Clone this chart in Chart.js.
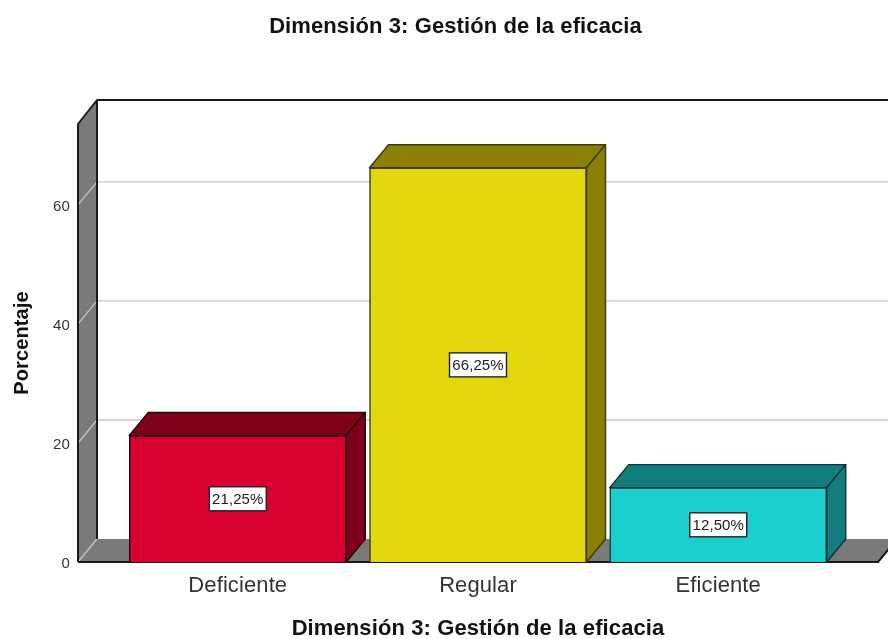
<!DOCTYPE html>
<html>
<head>
<meta charset="utf-8">
<script src="https://cdn.jsdelivr.net/npm/chart.js@4"></script>
<style>
html,body{margin:0;padding:0;background:#fff;overflow:hidden;width:888px;height:639px}
#wrap{position:relative;width:911px;height:639px}
</style>
</head>
<body>
<div id="wrap"><canvas id="c" width="911" height="639"></canvas></div>
<script>
const titleText = "Dimensión 3: Gestión de la eficacia";
const yAxisTitle = "Porcentaje";
const categories = ["Deficiente", "Regular", "Eficiente"];
const percentages = [21.25, 66.25, 12.5];
const percentLabels = ["21,25%", "66,25%", "12,50%"];
const yTicks = [0, 20, 40, 60];

const FRONT = ["#D7002E", "#E3D80D", "#1BCFCF"];
const SHADE = ["#7E001B", "#8A8006", "#117D7D"];
const EDGE = ["#2a0008", "#3d3a05", "#073232"];
const DX = 19, DY = 23, FONT = "'Liberation Sans', Arial, sans-serif", SPACING = "0.1px";

function poly(ctx, pts, fill, stroke, lw) {
  ctx.beginPath();
  pts.forEach((p, i) => i ? ctx.lineTo(p[0], p[1]) : ctx.moveTo(p[0], p[1]));
  ctx.closePath();
  if (fill) { ctx.fillStyle = fill; ctx.fill(); }
  if (stroke) { ctx.strokeStyle = stroke; ctx.lineWidth = lw; ctx.stroke(); }
}

const frame3d = {
  id: "frame3d",
  beforeLayout(chart) { chart.ctx.letterSpacing = SPACING; },
  beforeDraw(chart) { chart.ctx.letterSpacing = SPACING; },
  beforeDatasetsDraw(chart) {
    const ctx = chart.ctx, a = chart.chartArea, y = chart.scales.y;
    const L = a.left, R = a.right, T = a.top, B = a.bottom;
    ctx.save();
    ctx.lineJoin = "round";
    // floor
    poly(ctx, [[L, B], [R, B], [R + DX, B - DY], [L + DX, B - DY]], "#7A7A7A");
    // left wall
    poly(ctx, [[L, T], [L + DX, T - DY - 1], [L + DX, B - DY], [L, B]], "#7A7A7A");
    // grid lines on left wall and back wall
    ctx.strokeStyle = "#C8C8C8";
    ctx.lineWidth = 1.3;
    yTicks.forEach(v => {
      const p = y.getPixelForValue(v);
      ctx.beginPath();
      ctx.moveTo(L, p);
      ctx.lineTo(L + DX, p - DY);
      if (v > 0) ctx.lineTo(R + DX, p - DY);
      ctx.stroke();
    });
    // frame edges
    ctx.strokeStyle = "#1a1a1a";
    ctx.lineWidth = 2;
    ctx.beginPath();
    ctx.moveTo(L, B); ctx.lineTo(L, T); ctx.lineTo(L + DX, T - DY - 1);
    ctx.lineTo(R + DX, T - DY - 1);
    ctx.moveTo(L + DX, T - DY - 1); ctx.lineTo(L + DX, B - DY);
    ctx.moveTo(L, B); ctx.lineTo(R, B); ctx.lineTo(R + DX, B - DY);
    ctx.stroke();
    // bar top and side faces
    chart.getDatasetMeta(0).data.forEach((el, i) => {
      const l = el.x - el.width / 2, r = el.x + el.width / 2, t = el.y, b = el.base;
      poly(ctx, [[l, t], [l + DX, t - DY], [r + DX, t - DY], [r, t]], SHADE[i], EDGE[i], 1.4);
      poly(ctx, [[r, t], [r + DX, t - DY], [r + DX, b - DY], [r, b]], SHADE[i], EDGE[i], 1.4);
    });
    ctx.restore();
  },
  afterDatasetsDraw(chart) {
    const ctx = chart.ctx;
    ctx.save();
    ctx.font = "15px " + FONT;
    ctx.textAlign = "center";
    ctx.textBaseline = "middle";
    chart.getDatasetMeta(0).data.forEach((el, i) => {
      const cy = (el.y + el.base) / 2, w = 57, h = 24;
      ctx.fillStyle = "#fff";
      ctx.strokeStyle = "#222";
      ctx.lineWidth = 1.4;
      ctx.fillRect(el.x - w / 2, cy - h / 2, w, h);
      ctx.strokeRect(el.x - w / 2, cy - h / 2, w, h);
      ctx.fillStyle = "#222";
      ctx.fillText(percentLabels[i], el.x, cy + 1);
    });
    ctx.restore();
  }
};

document.getElementById("c").getContext("2d").letterSpacing = SPACING;

new Chart(document.getElementById("c"), {
  type: "bar",
  data: {
    labels: categories,
    datasets: [{
      label: yAxisTitle,
      data: percentages.map((v, i) => ({ x: i, y: v })),
      backgroundColor: FRONT,
      borderColor: EDGE,
      borderWidth: 1.5,
      barThickness: 217
    }]
  },
  options: {
    responsive: false,
    animation: false,
    layout: { padding: { left: 33, right: 33, top: 0, bottom: 0 } },
    plugins: {
      legend: { display: false },
      tooltip: { enabled: false },
      title: {
        display: true,
        text: titleText,
        color: "#111",
        font: { family: FONT, size: 22, weight: "bold" },
        padding: { top: 14, bottom: 83.6 }
      }
    },
    scales: {
      x: {
        type: "linear",
        offset: false,
        min: -0.665,
        max: 2.665,
        afterFit(s) { s.height = 77; },
        afterBuildTicks(s) { s.ticks = categories.map((_, i) => ({ value: i })); },
        grid: { display: false, drawTicks: false },
        border: { display: false },
        ticks: {
          autoSkip: false, maxRotation: 0, padding: 11,
          color: "#333",
          font: { family: FONT, size: 22 },
          callback: v => categories[v]
        },
        title: {
          display: true,
          text: titleText,
          color: "#111",
          font: { family: FONT, size: 22, weight: "bold" },
          padding: { top: 0, bottom: -3 }
        }
      },
      y: {
        min: 0,
        max: 73.6,
        afterFit(s) { s.width = 45; },
        afterBuildTicks(s) { s.ticks = yTicks.map(v => ({ value: v })); },
        grid: { display: false, drawTicks: false },
        border: { display: false },
        ticks: {
          padding: 8,
          labelOffset: 2,
          color: "#333",
          font: { family: FONT, size: 15 }
        },
        title: {
          display: true,
          text: yAxisTitle,
          color: "#111",
          font: { family: FONT, size: 20, weight: "bold" },
          padding: { top: -23, bottom: 0 }
        }
      }
    }
  },
  plugins: [frame3d]
});
</script>
</body>
</html>
